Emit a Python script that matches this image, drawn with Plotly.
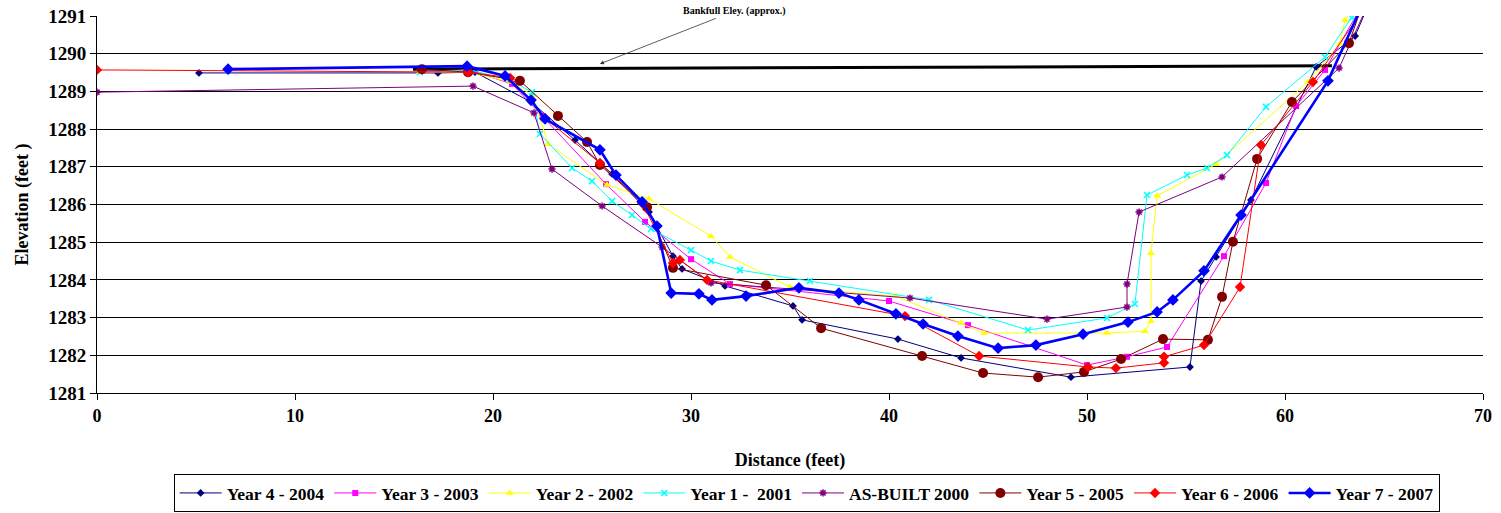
import plotly.graph_objects as go

FONT = "Liberation Serif"

# ---------------- data (distance ft, elevation ft) ----------------
y4_x = [5.15, 17.22, 19.09, 21.92, 24.14, 26.01, 27.88, 29.09, 29.55, 31.72, 35.15, 35.61, 40.45, 43.64, 49.19, 55.20, 55.76, 56.52, 58.28, 61.57, 63.54, 64.3]
y4_y = [1289.49, 1289.49, 1289.51, 1288.72, 1287.71, 1286.81, 1285.80, 1284.63, 1284.29, 1283.84, 1283.31, 1282.94, 1282.43, 1281.93, 1281.42, 1281.69, 1283.97, 1284.61, 1286.12, 1289.65, 1290.47, 1291.4]

y3_x = [16.31, 18.74, 20.96, 22.47, 25.71, 27.68, 30.0, 31.97, 40.0, 43.99, 50.0, 52.02, 54.04, 56.92, 59.04, 60.56, 62.02, 64.04]
y3_y = [1289.54, 1289.57, 1289.20, 1288.35, 1286.54, 1285.54, 1284.55, 1283.89, 1283.44, 1282.80, 1281.74, 1281.96, 1282.22, 1284.63, 1286.57, 1288.61, 1289.57, 1291.42]

y2_x = [16.31, 18.84, 20.86, 22.02, 22.78, 25.76, 27.88, 31.01, 31.97, 35.0, 40.35, 43.64, 44.80, 51.01, 52.93, 53.23, 53.23, 53.54, 56.52, 61.16, 62.78, 63.03, 63.79]
y2_y = [1289.51, 1289.51, 1289.25, 1288.90, 1287.60, 1286.52, 1286.15, 1285.16, 1284.61, 1283.81, 1283.57, 1282.86, 1282.59, 1282.59, 1282.64, 1282.91, 1284.71, 1286.23, 1287.07, 1289.25, 1290.26, 1290.89, 1291.42]

y1_x = [16.31, 18.84, 20.86, 21.97, 22.37, 23.99, 25.0, 26.01, 27.02, 27.98, 30.0, 31.01, 32.47, 36.01, 42.02, 47.02, 51.01, 52.42, 53.03, 55.05, 56.06, 57.07, 59.04, 62.02, 63.38, 63.79]
y1_y = [1289.51, 1289.57, 1289.30, 1288.98, 1287.87, 1286.97, 1286.62, 1286.09, 1285.72, 1285.35, 1284.79, 1284.50, 1284.26, 1283.97, 1283.47, 1282.67, 1282.99, 1283.36, 1286.25, 1286.78, 1286.97, 1287.31, 1288.59, 1289.91, 1290.95, 1291.3]

ab_x = [0.0, 18.99, 22.07, 22.98, 25.51, 28.54, 31.01, 41.06, 47.98, 52.02, 52.02, 52.63, 56.82, 62.73, 64.29]
ab_y = [1288.98, 1289.14, 1288.43, 1286.94, 1285.96, 1284.87, 1283.92, 1283.52, 1282.96, 1283.28, 1283.89, 1285.80, 1286.73, 1289.62, 1291.42]

y5_x = [16.41, 18.74, 21.36, 23.28, 24.75, 25.40, 27.78, 29.09, 33.79, 36.57, 41.67, 44.75, 47.53, 49.85, 51.72, 53.84, 56.11, 56.82, 57.37, 58.59, 60.35, 63.23, 63.99]
y5_y = [1289.59, 1289.51, 1289.28, 1288.35, 1287.66, 1287.05, 1285.93, 1284.32, 1283.86, 1282.72, 1281.98, 1281.53, 1281.42, 1281.56, 1281.90, 1282.43, 1282.41, 1283.55, 1285.01, 1287.21, 1288.72, 1290.28, 1291.42]

y6_x = [0.0, 18.74, 20.86, 22.63, 25.40, 27.53, 29.09, 29.44, 30.81, 40.81, 44.55, 50.05, 51.46, 53.89, 53.89, 55.91, 57.73, 58.79, 61.41, 64.29]
y6_y = [1289.57, 1289.51, 1289.36, 1288.29, 1287.10, 1286.04, 1284.45, 1284.53, 1284.0, 1283.04, 1281.98, 1281.69, 1281.66, 1281.80, 1281.96, 1282.27, 1283.81, 1287.58, 1289.25, 1291.42]

y7_x = [6.62, 18.69, 20.61, 21.92, 22.63, 25.40, 26.21, 27.53, 28.28, 29.0, 30.40, 31.06, 32.78, 35.45, 37.47, 38.48, 40.35, 41.72, 43.48, 45.51, 47.42, 49.80, 52.07, 53.54, 54.34, 55.91, 57.78, 62.17, 64.0]
y7_y = [1289.59, 1289.67, 1289.41, 1288.77, 1288.27, 1287.45, 1286.78, 1286.07, 1285.43, 1283.65, 1283.63, 1283.47, 1283.57, 1283.79, 1283.65, 1283.47, 1283.10, 1282.83, 1282.51, 1282.19, 1282.27, 1282.56, 1282.88, 1283.15, 1283.47, 1284.24, 1285.72, 1289.28, 1291.4]

bankfull_x = [15.96, 62.37]
bankfull_y = [1289.59, 1289.68]

x_ticks = [0, 10, 20, 30, 40, 50, 60, 70]
y_ticks = list(range(1281, 1292))

series = [
    ("Year 4 - 2004", y4_x, y4_y, "#000080", "diamond", 6, 1),
    ("Year 3 - 2003", y3_x, y3_y, "#FF00FF", "square", 6, 1),
    ("Year 2 - 2002", y2_x, y2_y, "#FFFF00", "triangle-up", 7, 1),
    ("Year 1 -\u00a0 2001", y1_x, y1_y, "#00FFFF", "x-thin", 6, 1),
    ("AS-BUILT 2000", ab_x, ab_y, "#800080", "asterisk", 6, 1),
    ("Year 5 - 2005", y5_x, y5_y, "#800000", "circle", 10, 1),
    ("Year 6 - 2006", y6_x, y6_y, "#FF0000", "diamond", 8, 1),
    ("Year 7 - 2007", y7_x, y7_y, "#0000FF", "diamond", 9, 2.6),
]

fig = go.Figure()

fig.add_trace(go.Scatter(x=bankfull_x, y=bankfull_y, mode="lines",
                         line=dict(color="black", width=3), showlegend=False,
                         hoverinfo="skip"))

for name, xs, ys, col, sym, size, lw in series:
    mk = dict(color=col, symbol=sym, size=size)
    if sym in ("x-thin", "asterisk"):
        mk["line"] = dict(color=col, width=1.5)
    fig.add_trace(go.Scatter(x=xs, y=ys, mode="lines+markers", name=f"<b>{name}</b>",
                             line=dict(color=col, width=lw), marker=mk))

fig.add_annotation(x=25.4, y=1289.73, xref="x", yref="y",
                   text="<b>Bankfull Eley. (approx.)</b>",
                   showarrow=True, arrowhead=2, arrowsize=1, arrowwidth=0.8,
                   arrowcolor="#333333", ax=135, ay=-53,
                   font=dict(family=FONT, size=10, color="black"))

fig.update_layout(
    width=1501, height=513,
    margin=dict(l=97, r=18, t=16, b=120, autoexpand=False),
    paper_bgcolor="white", plot_bgcolor="white",
    font=dict(family=FONT, color="black"),
    legend=dict(orientation="h", x=0.512, xanchor="center", y=-0.215, yanchor="top",
                bordercolor="black", borderwidth=1, itemwidth=42,
                font=dict(family=FONT, size=17.5, color="black"),
                tracegroupgap=0),
    showlegend=True,
)

fig.update_xaxes(range=[0, 70], tickvals=x_ticks,
                 ticktext=[f"<b>{v}</b>" for v in x_ticks],
                 showgrid=False, zeroline=False, showline=True, linecolor="black",
                 linewidth=1, ticks="outside", ticklen=6, tickcolor="black",
                 automargin=False,
                 tickfont=dict(family=FONT, size=18, color="black"),
                 title=dict(text="<b>Distance (feet)</b>", standoff=28,
                            font=dict(family=FONT, size=18, color="black")))
fig.update_yaxes(range=[1281, 1291], tickvals=y_ticks,
                 ticktext=[f"<b>{v}</b>" for v in y_ticks],
                 showgrid=True, gridcolor="black", gridwidth=1, zeroline=False,
                 showline=True, linecolor="black", linewidth=1,
                 ticks="outside", ticklen=6, tickcolor="black",
                 automargin=False,
                 tickfont=dict(family=FONT, size=19, color="black"),
                 title=dict(text="<b>Elevation (feet )</b>", standoff=14,
                            font=dict(family=FONT, size=18, color="black")))

fig.write_html("out.html")
